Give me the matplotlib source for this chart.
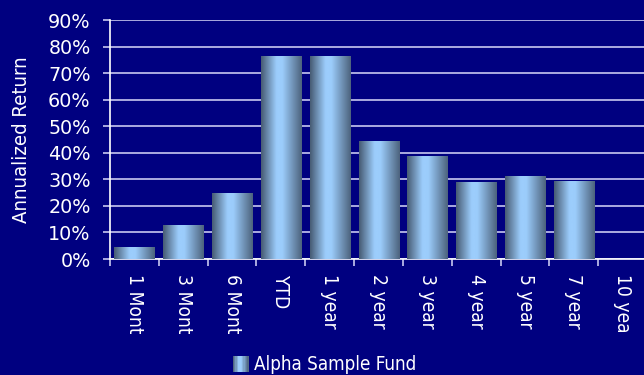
import numpy as np
import matplotlib
matplotlib.use("Agg")
import matplotlib.pyplot as plt
from matplotlib.colors import LinearSegmentedColormap
from matplotlib.patches import Rectangle
from matplotlib.legend_handler import HandlerBase
from matplotlib.transforms import Bbox

categories = ["1 Month", "3 Month", "6 Month", "YTD", "1 year", "2 year",
              "3 year", "4 year", "5 year", "7 year", "10 year"]
returns = [4.5, 12.8, 24.8, 76.4, 76.4, 44.4, 38.8, 29.0, 31.2, 29.4, np.nan]
y_ticks = [0, 10, 20, 30, 40, 50, 60, 70, 80, 90]
series_name = "Alpha Sample Fund"

BG = "#000080"
GRID = "#c8c8f0"
FS = 13.8
plt.rcParams["font.family"] = ["DejaVu Sans"]
plt.rcParams["font.stretch"] = "condensed"

bar_cmap = LinearSegmentedColormap.from_list(
    "bar", [(0.0, "#465a72"), (0.38, "#9ccdfc"), (0.52, "#9ccdfc"), (1.0, "#4c627c")])

fig = plt.figure(figsize=(6.44, 3.75), dpi=100, facecolor=BG)
ax = fig.add_axes([0.1708, 0.3093, 0.834, 0.6373], facecolor=BG)

x = np.arange(len(categories))
bars = ax.bar(x, returns, width=0.82, color="none", edgecolor="none", zorder=3)

# horizontal shading inside each bar
grad = np.linspace(0, 1, 256).reshape(1, -1)
for b in bars:
    h = b.get_height()
    if not np.isfinite(h) or h <= 0:
        continue
    x0 = b.get_x()
    w = b.get_width()
    im = ax.imshow(grad, cmap=bar_cmap, aspect="auto",
                   extent=(x0, x0 + w, 0, h), zorder=3, interpolation="bicubic")
    im.set_clip_path(b)

ax.set_xlim(-0.5, len(categories) - 0.5)
ax.set_ylim(0, 90)
ax.set_yticks(y_ticks)
ax.set_yticklabels([f"{v}%" for v in y_ticks], color="white", fontsize=13.8,
                   fontstretch="normal")
ax.yaxis.grid(True, color=GRID, linewidth=1.2, zorder=1)
ax.set_axisbelow(True)
ax.tick_params(axis="y", colors=GRID, length=5, width=1.2, pad=9, labelcolor="white")

ax.set_xticks(x)
ax.set_xticks(np.arange(len(categories) + 1) - 0.5, minor=True)
ax.tick_params(axis="x", which="major", length=0, pad=11, labelcolor="white")
ax.tick_params(axis="x", which="minor", length=5, width=1.2, colors=GRID)
labels = ax.set_xticklabels(categories, rotation=-90, fontsize=FS,
                            va="top", ha="center")

for side in ("top", "right"):
    ax.spines[side].set_visible(False)
for side in ("left", "bottom"):
    ax.spines[side].set_color("white")
    ax.spines[side].set_linewidth(1.2)

ax.set_ylabel("Annualized Return", color="white", fontsize=FS + 0.8, labelpad=12)

# category labels are cut off at a fixed depth below the axis
clip = Bbox.from_extents(0, 375 - 334, 644, 375 - 262)
for t in labels:
    t.set_clip_box(clip)
    t.set_clip_on(True)


class GradientSquare(HandlerBase):
    def create_artists(self, legend, orig_handle, xdescent, ydescent,
                       width, height, fontsize, trans):
        side = height
        n = 12
        out = []
        for i in range(n):
            r = Rectangle((-xdescent + width - side + i * side / n, -ydescent),
                          side / n + 0.3, side,
                          facecolor=bar_cmap((i + 0.5) / n), edgecolor="none",
                          transform=trans)
            out.append(r)
        return out


proxy = Rectangle((0, 0), 1, 1)
leg = fig.legend([proxy], [series_name], handler_map={Rectangle: GradientSquare()},
                 loc="center", bbox_to_anchor=(0.503, 0.027), frameon=False,
                 fontsize=FS - 0.3, labelcolor="white", handlelength=0.9,
                 handletextpad=0.3, handleheight=0.9)

fig.savefig("out.png", dpi=100, facecolor=BG)
